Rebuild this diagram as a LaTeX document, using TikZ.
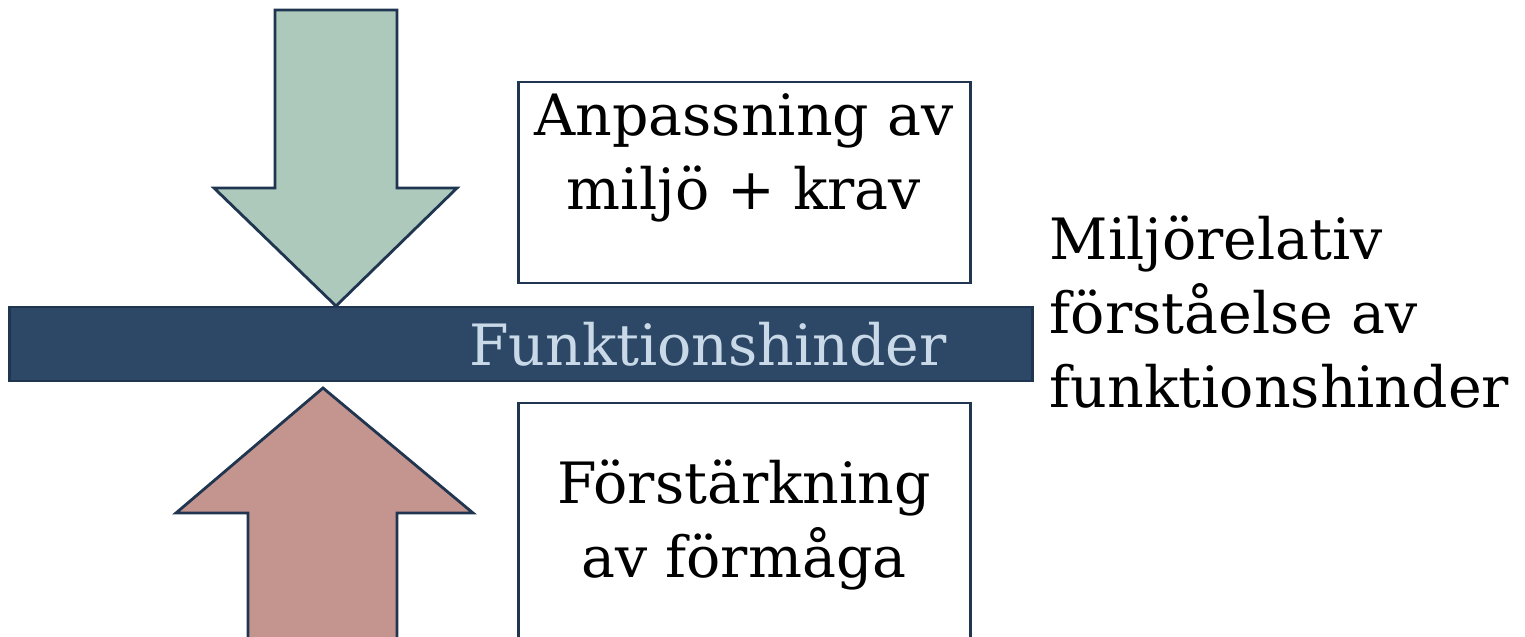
\documentclass[tikz,border=0pt]{standalone}
\usepackage{fontspec}
\setmainfont{DejaVu Serif}
\usepackage{tikz}
\usetikzlibrary{positioning}
\definecolor{barblue}{HTML}{2C4866}
\definecolor{barlabel}{HTML}{C9D9E8}
\definecolor{edgeblue}{HTML}{1F3550}
\definecolor{arrowgreen}{HTML}{ADC9BC}
\definecolor{arrowred}{HTML}{C4948F}
\tikzset{
  basic/.style   = {draw=edgeblue, line width=0.8pt},
  bigtext/.style = {font=\fontsize{16.2}{21}\selectfont, inner sep=0pt},
  frame/.style   = {basic, rectangle, fill=white, minimum width=4.51cm, inner sep=0pt},
  label/.style   = {bigtext, align=center},
  side/.style    = {bigtext, align=left, anchor=west},
  bar/.style     = {basic, rectangle, fill=barblue, minimum width=10.22cm,
                    minimum height=0.74cm, inner sep=0pt},
  pusharrow/.style = {basic, line join=miter}
}

\begin{document}
\begin{tikzpicture}[x=0.01cm, y=-0.01cm]
\useasboundingbox (0,0) rectangle (1525,637);
\clip (0,0) rectangle (1525,637);

% the two boxes on the right of the arrows
\node[frame, minimum height=2.01cm] (adapt) at (744.5,182.5) {};
\node[frame, minimum height=2.60cm] (boost) at (744.5,533) {};
\node[label] (adapttext) at (744,158) {Anpassning av\\miljö + krav};
\node[label] (boosttext) at (744,525) {Förstärkning\\av förmåga};

% arrow from above, down onto the bar
\draw[pusharrow, fill=arrowgreen]
  (275,10) -- (397,10) -- (397,188) -- (457,188) -- (336,306)
  -- (214,188) -- (275,188) -- cycle;

% arrow from below, up onto the bar
\draw[pusharrow, fill=arrowred]
  (248,660) -- (248,513) -- (176,513) -- (323,388)
  -- (473,513) -- (397,513) -- (397,660) -- cycle;

% the bar itself
\node[bar] (bar) at (521,344) {};
\node[bigtext, text=barlabel] (bartext) at (708,344) {Funktionshinder};

% text to the right of the bar
\node[side] (view) at (1049,312) {Miljörelativ\\förståelse av\\funktionshinder};

\end{tikzpicture}
\end{document}
